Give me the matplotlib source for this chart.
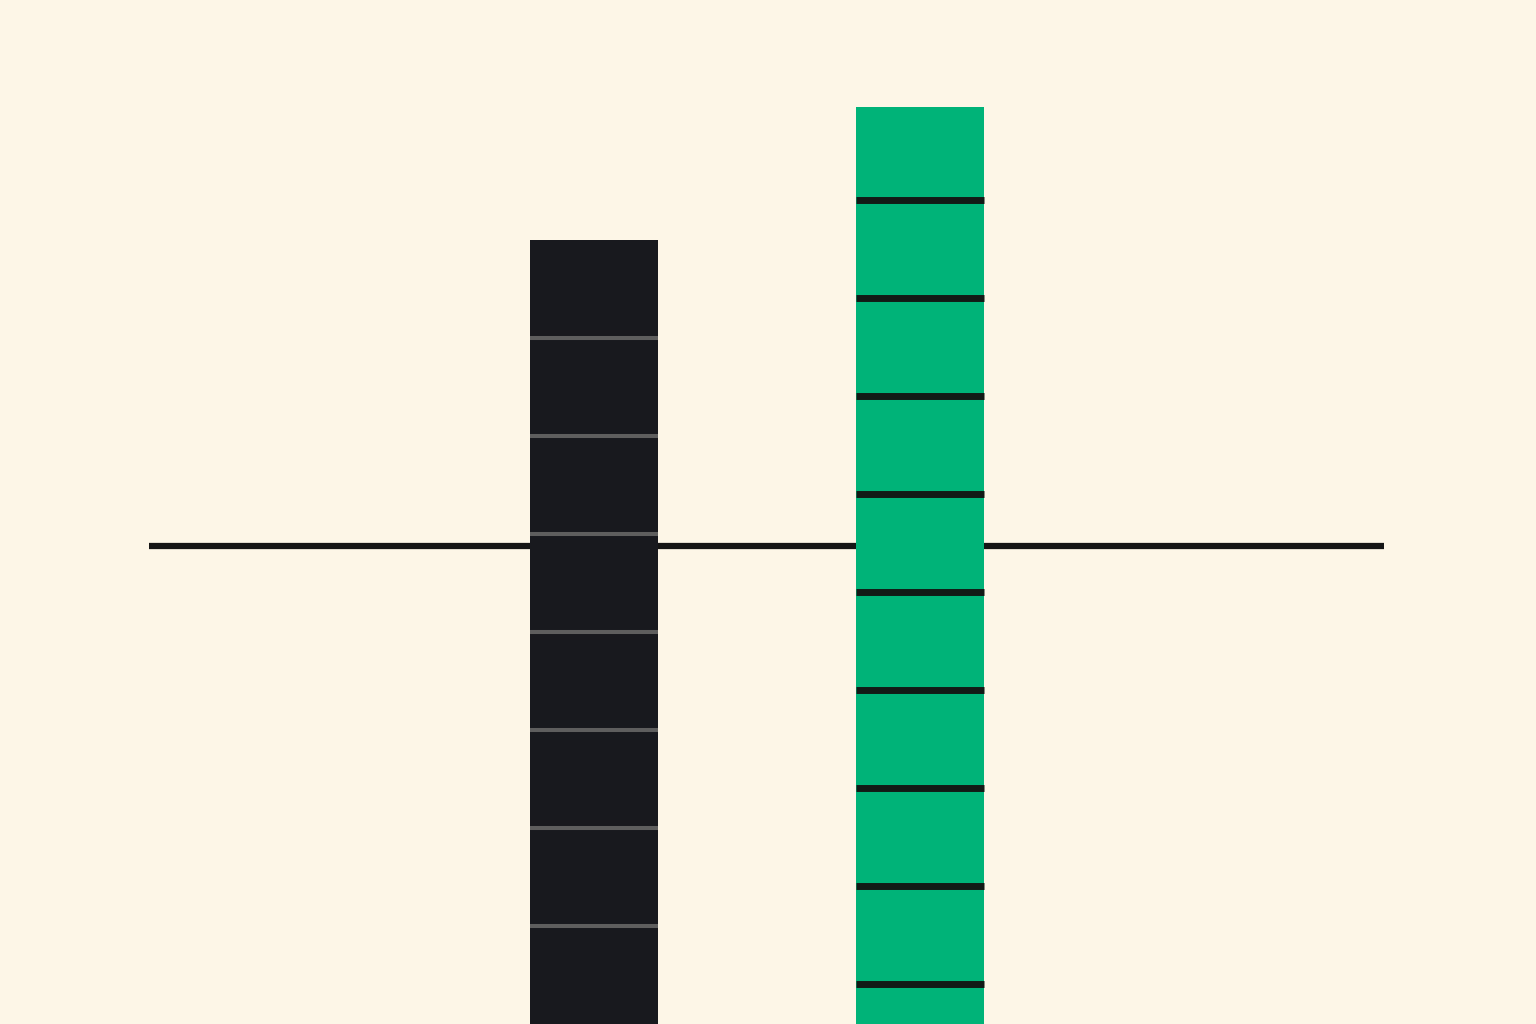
import numpy as np
import matplotlib.pyplot as plt

# stacked unit blocks per bar
black_segments = [1.0] * 8
green_segments = [1.0] * 9 + [0.95]
black_base = 0.0
green_base = -0.59
reference_level = 4.88

bg = '#fdf6e7'
fig = plt.figure(figsize=(15.36, 10.24), dpi=100, facecolor=bg)
ax = fig.add_axes([0, 0, 1, 1])
ax.set_facecolor(bg)

# reference line behind the bars
ax.hlines(reference_level, -1.363, 2.42, color='#151515', lw=4.5, zorder=1)

width = 0.392
for xpos, segs, base, color, divc, divw in [
        (0, black_segments, black_base, '#18191e', '#5e5e5e', 2.9),
        (1, green_segments, green_base, '#00b378', '#121a16', 5.0)]:
    bottoms = base + np.concatenate([[0], np.cumsum(segs)[:-1]])
    ax.bar(xpos, segs, width=width, bottom=bottoms, color=color,
           linewidth=0, zorder=2)
    # divider lines between blocks
    ax.hlines(bottoms[1:], xpos - width / 2, xpos + width / 2,
              color=divc, lw=divw, zorder=3, capstyle='butt')

ax.set_xlim(-1.819, 2.885)
ax.set_ylim(0, 10.45)
ax.axis('off')

fig.savefig('out.png', dpi=100, facecolor=bg)
